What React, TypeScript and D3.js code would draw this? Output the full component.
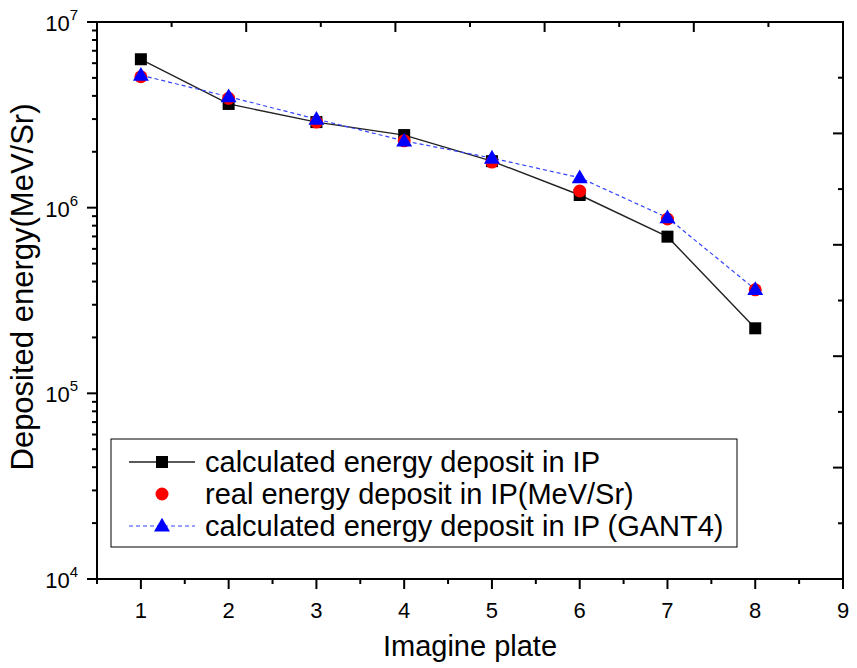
import React from "react";
import * as d3 from "d3";

const plates = [1, 2, 3, 4, 5, 6, 7, 8];
const calcIP = [6.3e6, 3.62e6, 2.89e6, 2.46e6, 1.78e6, 1.17e6, 6.98e5, 2.24e5];
const realIP = [5.07e6, 3.88e6, 2.89e6, 2.29e6, 1.76e6, 1.23e6, 8.69e5, 3.61e5];
const gant4IP = [5.17e6, 3.96e6, 3.0e6, 2.29e6, 1.85e6, 1.45e6, 8.83e5, 3.63e5];

const xTicks = [1, 2, 3, 4, 5, 6, 7, 8, 9];
const yDecades = [4, 5, 6, 7];
const legendLabels = [
  "calculated energy deposit in IP",
  "real energy deposit in IP(MeV/Sr)",
  "calculated energy deposit in IP (GANT4)",
];

const W = 857;
const H = 668;
const L = 97, R = 843, T = 22, B = 579;

export default function App() {
  const x = d3.scaleLinear().domain([0.5, 9]).range([L, R]);
  const y = d3.scaleLog().domain([1e4, 1e7]).range([B, T]);
  const topScale = d3.scaleLinear().domain([0, 10]).range([L, R]);
  const rightScale = d3.scaleLinear().domain([0, 10]).range([B, T]);

  const line = d3
    .line<number>()
    .x((_, i) => x(plates[i]))
    .y((d) => y(d));

  const minorX = d3.range(0.5, 9, 1);
  const minorY: number[] = [];
  for (let e = 4; e < 7; e++) for (let k = 2; k <= 9; k++) minorY.push(k * Math.pow(10, e));

  const font = "'Liberation Sans', Arial, sans-serif";
  const tri = d3.symbol().type(d3.symbolTriangle).size(110)();

  const legendRows = [472, 504, 536];

  return (
    <svg width={W} height={H} style={{ position: "absolute", left: 0, top: 0, background: "#fff" }} fontFamily={font}>
      <rect x={0} y={0} width={W} height={H} fill="#fff" />
      {/* series lines */}
      <path d={line(calcIP) || ""} fill="none" stroke="#222" strokeWidth={1.4} />
      <path d={line(gant4IP) || ""} fill="none" stroke="#3344ff" strokeWidth={1.2} strokeDasharray="4,3" />
      {/* markers */}
      {calcIP.map((v, i) => (
        <rect key={"s" + i} x={x(plates[i]) - 6} y={y(v) - 6} width={12} height={12} fill="#000" />
      ))}
      {realIP.map((v, i) => (
        <circle key={"c" + i} cx={x(plates[i])} cy={y(v)} r={6.5} fill="#ff0000" />
      ))}
      {gant4IP.map((v, i) => (
        <path key={"t" + i} d={tri || ""} transform={`translate(${x(plates[i])},${y(v) + 1})`} fill="#0000ff" />
      ))}

      {/* frame */}
      <rect x={L} y={T} width={R - L} height={B - T} fill="none" stroke="#000" strokeWidth={2} />

      {/* bottom ticks (outward) */}
      {xTicks.map((t) => (
        <line key={"bx" + t} x1={x(t)} x2={x(t)} y1={B} y2={B + 10} stroke="#000" strokeWidth={2} />
      ))}
      {minorX.map((t) => (
        <line key={"bm" + t} x1={x(t)} x2={x(t)} y1={B} y2={B + 5} stroke="#000" strokeWidth={2} />
      ))}
      {xTicks.map((t) => (
        <text key={"bl" + t} x={x(t)} y={618} fontSize={22} textAnchor="middle" fill="#000">
          {t}
        </text>
      ))}

      {/* left ticks (outward) */}
      {yDecades.map((e) => (
        <line key={"ly" + e} x1={L - 10} x2={L} y1={y(Math.pow(10, e))} y2={y(Math.pow(10, e))} stroke="#000" strokeWidth={2} />
      ))}
      {minorY.map((v, i) => (
        <line key={"lm" + i} x1={L - 5} x2={L} y1={y(v)} y2={y(v)} stroke="#000" strokeWidth={2} />
      ))}
      {yDecades.map((e) => (
        <text key={"yl" + e} x={78} y={y(Math.pow(10, e)) + 9} fontSize={22} textAnchor="end" fill="#000">
          10
          <tspan fontSize={15} dy={-11}>{e}</tspan>
        </text>
      ))}

      {/* top ticks (inward) */}
      {d3.range(1, 10).map((t) => (
        <line key={"tt" + t} x1={topScale(t)} x2={topScale(t)} y1={T} y2={T + (t % 2 === 0 ? 10 : 5)} stroke="#000" strokeWidth={2} />
      ))}
      {/* right ticks (inward) */}
      {d3.range(1, 10).map((t) => (
        <line key={"rt" + t} x1={R} x2={R - (t % 2 === 0 ? 10 : 5)} y1={rightScale(t)} y2={rightScale(t)} stroke="#000" strokeWidth={2} />
      ))}

      {/* axis titles */}
      <text x={470} y={656} fontSize={29} textAnchor="middle" fill="#000">
        Imagine plate
      </text>
      <text transform={`translate(33,287) rotate(-90)`} fontSize={31} textAnchor="middle" fill="#000">
        Deposited energy(MeV/Sr)
      </text>

      {/* legend */}
      <rect x={111} y={439} width={626} height={108} fill="#fff" stroke="#000" strokeWidth={1} />
      <line x1={129} x2={195} y1={legendRows[0] - 10} y2={legendRows[0] - 10} stroke="#222" strokeWidth={1.4} />
      <rect x={156} y={legendRows[0] - 16} width={12} height={12} fill="#000" />
      <circle cx={162} cy={legendRows[1] - 10} r={6.5} fill="#ff0000" />
      <line x1={129} x2={195} y1={legendRows[2] - 10} y2={legendRows[2] - 10} stroke="#3344ff" strokeWidth={1.2} strokeDasharray="4,3" />
      <path d={tri || ""} transform={`translate(162,${legendRows[2] - 9})`} fill="#0000ff" />
      {legendLabels.map((s, i) => (
        <text key={"lg" + i} x={205} y={legendRows[i]} fontSize={29} fill="#000">
          {s}
        </text>
      ))}
    </svg>
  );
}
